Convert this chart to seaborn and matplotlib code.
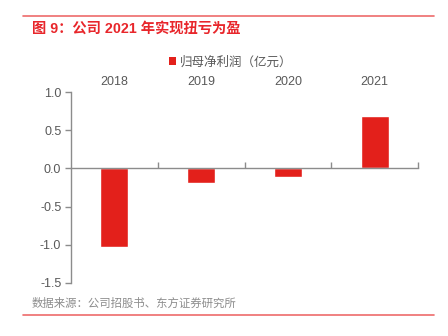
import matplotlib
matplotlib.use("Agg")
import matplotlib.pyplot as plt
import seaborn as sns
import pandas as pd
import numpy as np
from matplotlib.patches import Patch
from matplotlib.lines import Line2D

years = ["2018", "2019", "2020", "2021"]
profit = [-1.03, -0.19, -0.115, 0.685]
series_name = "归母净利润（亿元）"
title = "图 9：公司 2021 年实现扭亏为盈"
source = "数据来源：公司招股书、东方证券研究所"
yticks = [1.0, 0.5, 0.0, -0.5, -1.0, -1.5]

sns.set_theme(style="white")
fam = ["Liberation Sans", "Noto Sans CJK SC", "DejaVu Sans"]
plt.rcParams["font.family"] = fam

RED = "#E3201B"
GRAY = "#595959"
AXC = "#8C8C8C"

df = pd.DataFrame({"year": years, "value": profit})

fig = plt.figure(figsize=(4.48, 3.36), dpi=100)
ax = fig.add_axes([71/448, 1-282.7/336, (418-71)/448, (282.7-92.3)/336])

sns.barplot(data=df, x="year", y="value", color=RED, saturation=1, width=0.32, ax=ax)

ax.set_ylim(-1.5, 1.0)
ax.set_xlim(-0.5, 3.5)
ax.set_yticks(yticks)
ax.set_yticklabels([f"{v:.1f}" for v in yticks], color=GRAY, fontsize=9)
ax.set_xlabel("")
ax.set_ylabel("")

for s in ["top", "right"]:
    ax.spines[s].set_visible(False)
ax.spines["bottom"].set_position(("data", 0))
ax.spines["bottom"].set_color(AXC)
ax.spines["left"].set_color(AXC)
ax.spines["bottom"].set_linewidth(1.0)
ax.spines["left"].set_linewidth(1.0)

ax.tick_params(axis="y", direction="out", length=4, color=AXC, width=1, left=True, pad=3)
ax.set_xticks(range(len(years)))
ax.set_xticklabels(years)
ax.tick_params(axis="x", which="major", bottom=False, top=False, length=0,
               labelbottom=False, labeltop=True, labelsize=9, labelcolor=GRAY, pad=3)
ax.set_xticks([0.5, 1.5, 2.5, 3.5], minor=True)
ax.tick_params(axis="x", which="minor", bottom=True, direction="in", length=4, color=AXC, width=1)

leg = fig.legend(handles=[Patch(facecolor=RED, edgecolor="none", label=series_name)],
                 loc="center", bbox_to_anchor=(231/448, 1-62/336), frameon=False,
                 prop={"family": ["Noto Sans CJK SC"], "size": 9},
                 handlelength=0.55, handleheight=0.55, handletextpad=0.3,
                 labelcolor=GRAY)

fig.text(32/448, 1-29/336, title, color="#E8262B", fontsize=10.3, fontweight="bold",
         va="center", ha="left")
fig.text(32/448, 1-303/336, source, color="#8C8C8C", fontsize=8.2, va="center", ha="left",
         family=["Noto Sans CJK SC"])

fig.add_artist(Line2D([23/448, 434/448], [1-16/336, 1-16/336], color="#EE6B6B", lw=1.2,
                      transform=fig.transFigure))
fig.add_artist(Line2D([23/448, 434/448], [1-315/336, 1-315/336], color="#EE6B6B", lw=1.2,
                      transform=fig.transFigure))

fig.savefig("out.png", dpi=100)
